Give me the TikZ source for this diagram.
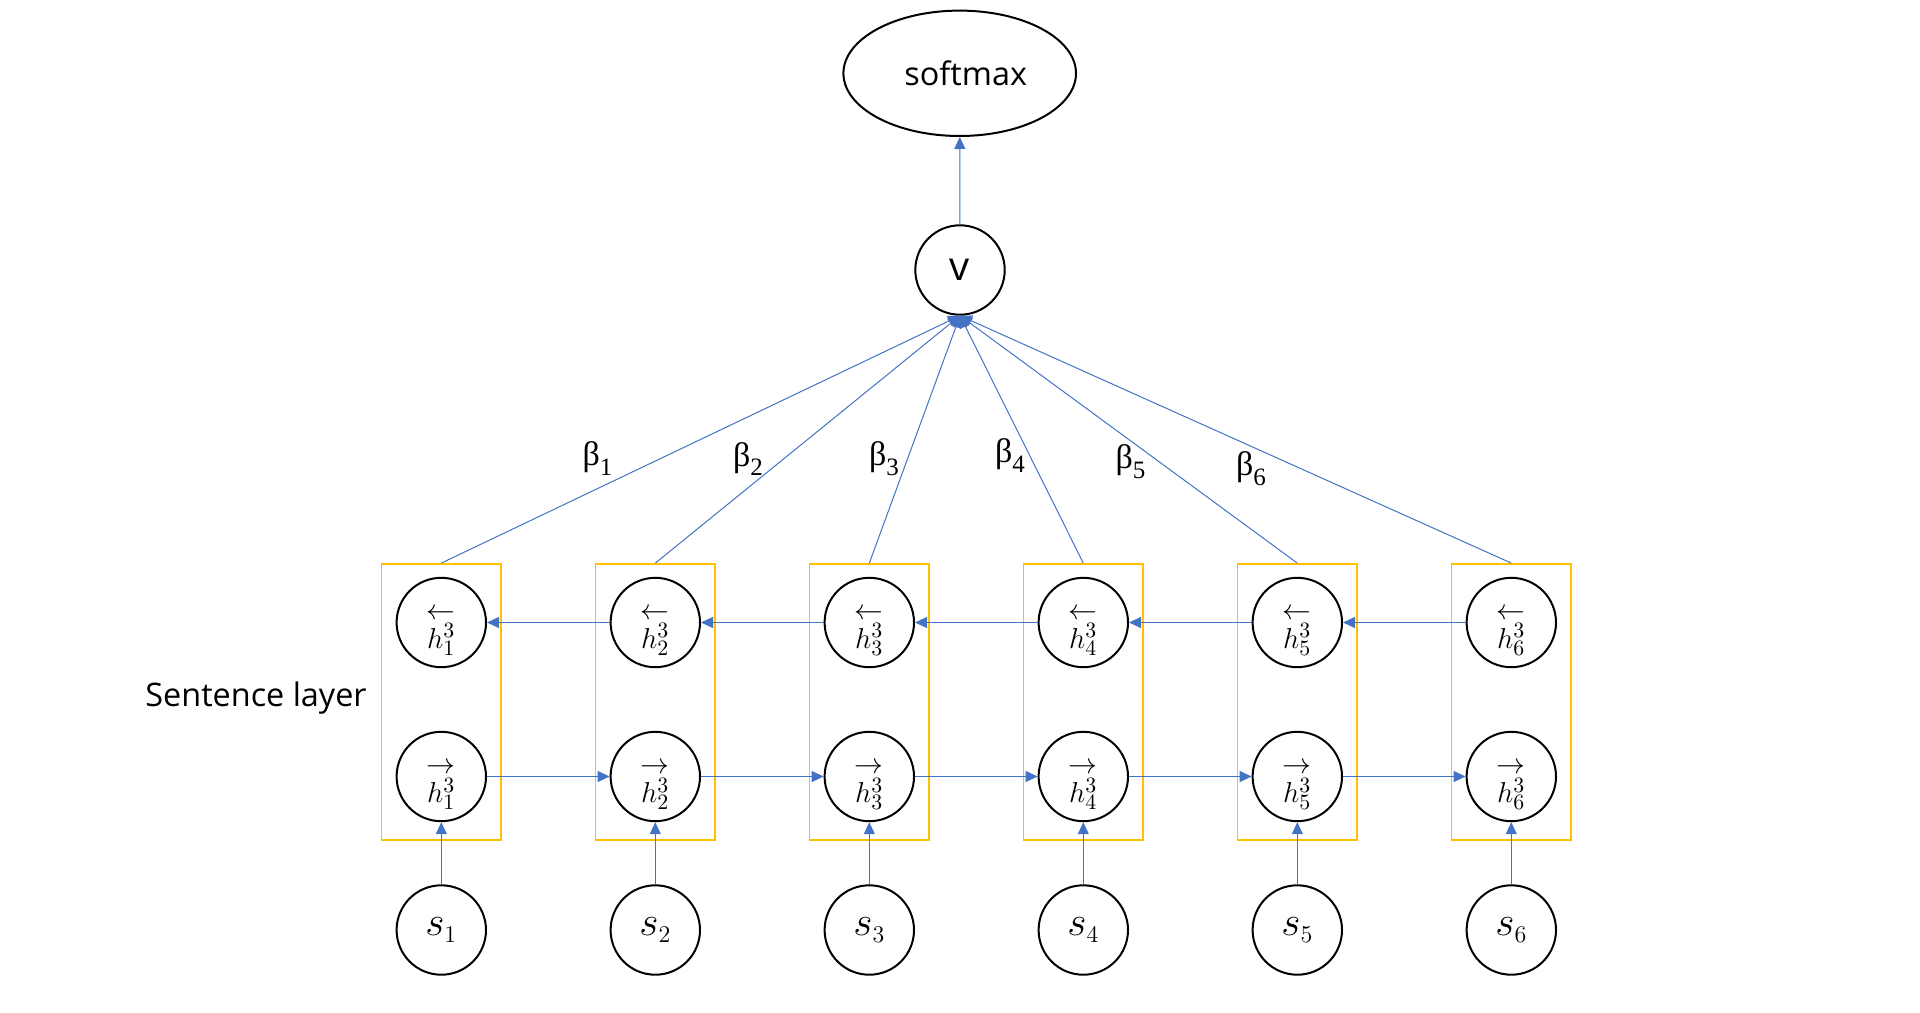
\documentclass[tikz,border=0pt]{standalone}
\usepackage[no-math]{fontspec}
\setmainfont{Open Sans}
\newfontfamily\grk{Liberation Serif}
\usetikzlibrary{shapes.geometric,arrows.meta}
\definecolor{bl}{HTML}{4472C4}
\definecolor{og}{HTML}{FFC000}
\DeclareMathSizes{14}{14}{11}{8}
\DeclareMathSizes{20}{20}{13}{10}
\newcommand\bsub[1]{\raisebox{-0.28em}{\fontsize{12.5}{12}\selectfont #1}}
\newcommand\hlab[2]{\rule{0pt}{15pt}$#1$\\$h^3_{#2}$}
\begin{document}
\begin{tikzpicture}[x=0.5pt,y=-0.5pt,
  circ/.style={circle,draw=black,line width=1pt,minimum size=44.7pt,inner sep=0pt},
  hbox/.style={rectangle,draw=og,line width=0.9pt,minimum width=59.75pt,minimum height=138pt,inner sep=0pt},
  conn/.style={draw=bl,line width=0.5pt,-{Triangle[width=5.5pt,length=6pt]}},
  hfont/.style={align=center,font=\fontsize{14}{14.5}\selectfont},
  sfont/.style={font=\fontsize{20}{22}\selectfont},
  sans/.style={font=\fontsize{16.2}{20}\selectfont},
  betalab/.style={inner sep=0pt,font=\grk\fontsize{17}{20}\selectfont}]
\useasboundingbox (0,0) rectangle (1920,1012);
\node[ellipse,draw=black,line width=1pt,minimum width=116.3pt,minimum height=62.7pt,inner sep=0pt,sans] (sm) at (959.7,73.3) {\hspace*{6pt}softmax};
\node[circ,font=\fontsize{20}{24}\selectfont] (v) at (960,270) {v};
\draw[conn] (v) -- (sm);
\foreach \i in {1,...,6} {
  \pgfmathsetmacro\xx{441.3+214*(\i-1)}
  \node[hbox] (box\i) at (\xx,702) {};
  \node[circ,hfont] (hb\i) at (\xx,622.5) {\hlab{\leftarrow}{\i}};
  \node[circ,hfont] (hf\i) at (\xx,776.5) {\hlab{\rightarrow}{\i}};
  \node[circ,sfont] (s\i) at (\xx,930) {$s_{\i}$};
  \draw[conn] (s\i) -- (hf\i);
  \draw[conn] (box\i.north) -- (v.south);
}
\foreach \i [evaluate=\i as \j using int(\i+1)] in {1,...,5} {
  \draw[conn] (hf\i) -- (hf\j);
  \draw[conn] (hb\j) -- (hb\i);
}
\node[anchor=base west,inner sep=0pt,sans] (lab) at (145,706.7) {Sentence layer};
\node[betalab] (b1) at (597.5,458.5) {β\bsub{1}};
\node[betalab] (b2) at (748,459) {β\bsub{2}};
\node[betalab] (b3) at (884,458.5) {β\bsub{3}};
\node[betalab] (b4) at (1010,455.5) {β\bsub{4}};
\node[betalab] (b5) at (1130.5,461.5) {β\bsub{5}};
\node[betalab] (b6) at (1251,468.5) {β\bsub{6}};
\end{tikzpicture}
\end{document}
